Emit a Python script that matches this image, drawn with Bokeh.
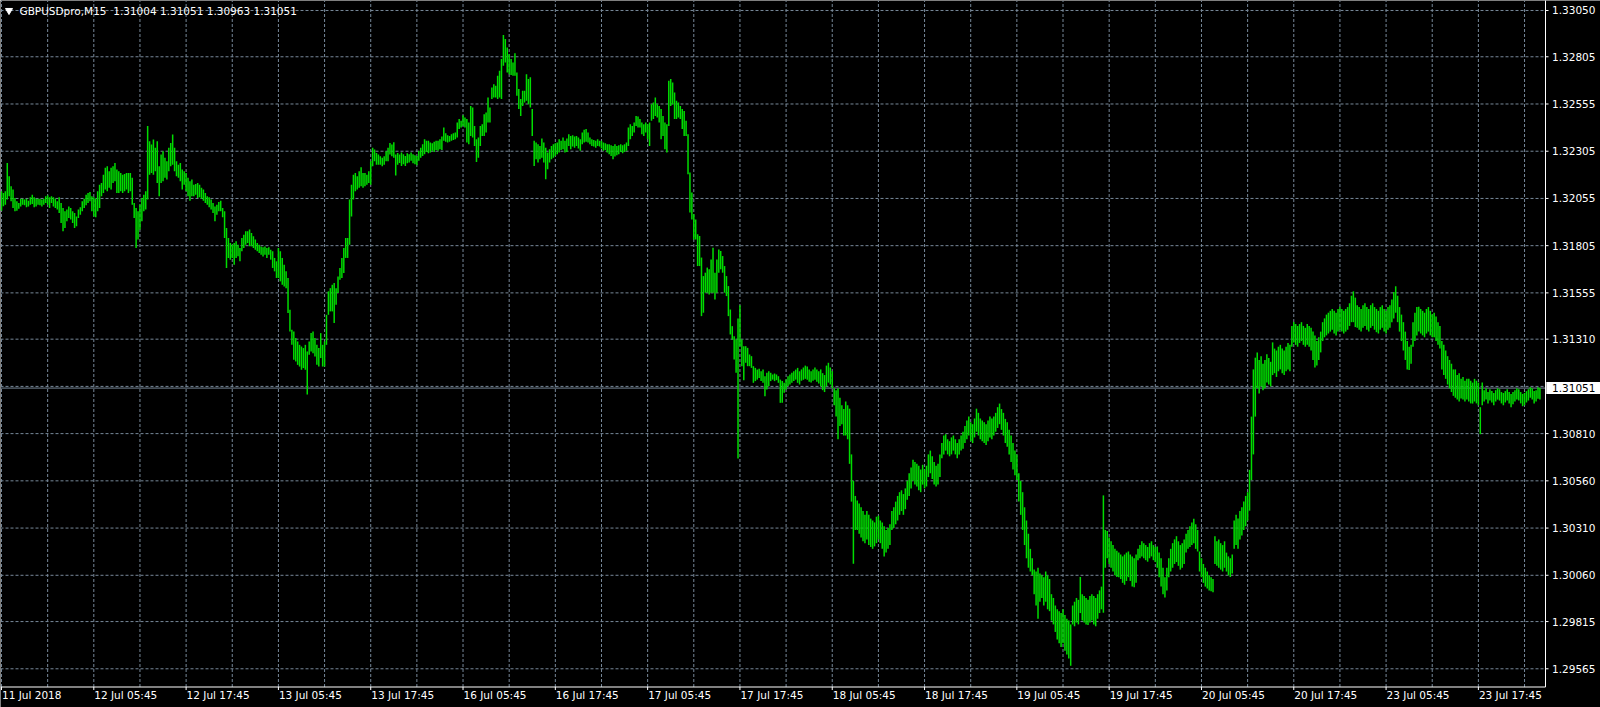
from bokeh.plotting import figure
from bokeh.models import ColumnDataSource
from bokeh.core.properties import value
from bokeh.embed import file_html
from bokeh.resources import INLINE

# ---- data -------------------------------------------------------------
BASE = 1.29          # bar highs / lows are stored in points (0.00001) above 1.29000
header = "GBPUSDpro,M15\u00a0 1.31004 1.31051 1.30963 1.31051"
bid_price = 1.31051

high_pts = [
3093,3084,3093,3243,3172,3120,3102,3058,3040,3031,
3054,3054,3049,3054,3043,3061,3075,3061,3054,3054,
3054,3049,3054,3066,3072,3061,3066,3061,3054,3040,
3061,3031,3005,2987,2996,3013,3005,2987,2978,2960,
2996,3008,3040,3054,3075,3084,3089,3066,3061,3054,
3093,3128,3137,3181,3217,3225,3199,3217,3225,3243,
3208,3199,3190,3181,3185,3190,3190,3190,3164,3031,
3005,2987,3022,3058,3075,3093,3438,3358,3340,3367,
3323,3358,3225,3287,3305,3270,3252,3323,3349,3393,
3323,3252,3234,3243,3208,3199,3190,3164,3146,3155,
3128,3132,3137,3128,3111,3102,3084,3066,3061,3049,
3031,3013,3022,3036,3043,3005,2987,2899,2846,2819,
2810,2819,2828,2810,2793,2846,2863,2881,2881,2890,
2872,2855,2837,2819,2810,2801,2796,2801,2793,2796,
2784,2775,2740,2722,2793,2775,2740,2704,2669,2634,
2466,2360,2351,2316,2298,2280,2271,2263,2280,2245,
2298,2342,2351,2316,2280,2263,2342,2280,2298,2439,
2563,2580,2598,2607,2580,2642,2687,2740,2793,2846,
2846,3049,3128,3181,3190,3172,3199,3220,3190,3190,
3181,3199,3252,3323,3314,3296,3287,3278,3270,3278,
3305,3323,3349,3340,3353,3287,3296,3287,
3298,3289,3280,3294,3289,3298,3289,3284,3280,3307,
3324,3342,3369,3360,3360,3351,3347,3355,3360,3360,
3369,3383,3430,3400,3390,3386,3395,3400,3404,3457,
3475,3466,3496,3483,3475,3457,3545,3536,3439,3369,
3377,3439,3448,3501,3510,3589,3536,3642,3660,3651,
3704,3731,3793,3920,3899,3854,3819,3793,3775,3824,
3722,3634,3581,3625,3625,3713,3687,3696,3528,3360,
3351,3342,3333,3372,3351,3324,3298,3316,3333,3342,
3347,3351,3369,3360,3377,3360,3372,3395,3386,3390,
3383,3386,3377,3369,3404,3418,3422,3404,3377,3369,
3365,3360,3369,3360,3360,3351,3347,3342,3342,3337,
3333,3342,3333,3337,3342,3337,3342,3351,3430,3448,
3439,3457,3492,3489,3475,3457,3448,3457,3448,3457,
3554,3563,3589,3554,3545,3528,3492,3457,3448,3678,
3687,3669,3616,3572,3563,3545,3528,3518,3466,3395,
3192,3086,2971,2944,2865,2856,2742,2644,2662,2689,
2680,2732,2794,2662,2732,2785,2777,2750,2697,2644,
2591,2467,2379,2326,2308,2420,2489,2308,2273,2273,
2264,2229,2220,2167,2158,2149,2153,2140,2149,2114,
2132,2140,2132,2123,2128,2123,2114,2096,2088,2079,
2096,2114,2123,2132,2140,2149,2158,2140,
2150,2160,2170,2165,2150,2140,2150,2160,2150,2140,
2150,2130,2120,2170,2185,2160,2140,
2050,2040,2050,2000,1960,1940,1980,1960,
1942,1700,1560,1480,
1456,1440,1420,1400,1380,1400,1380,1360,1350,1340,1370,
1375,1350,1340,1320,1300,1310,1330,
1400,1420,1450,1480,1500,1510,1490,1520,
1560,1600,1630,1672,1660,1650,1640,1620,
1645,1620,1640,1700,1720,1690,1660,1640,1650,1700,
1760,1800,1807,1780,1770,1790,1800,1780,1760,1780,1800,1820,
1850,1880,1900,1870,1860,1890,1942,1920,1890,1880,1870,1860,1880,1900,1890,
1900,1920,1950,1969,1940,1920,
1888,1870,1830,1800,1760,1720,1700,
1600,1560,1500,1420,1350,1280,1200,1150,
1090,1080,1100,1070,1060,1050,1080,1060,1040,
960,940,900,880,870,860,880,850,830,820,800,
900,920,940,930,1051,
960,950,940,930,950,960,950,940,
960,980,1000,1483,1300,
1294,1260,1240,1220,1200,1190,
1180,1170,1160,1170,1180,1186,1170,1160,1150,1170,
1200,1220,1240,1230,1220,1210,1230,1240,1220,1210,
1213,1180,1150,1100,1050,1100,
1150,1200,1230,1250,1267,1240,1220,1230,1250,
1280,1300,1320,1340,1359,1330,1300,
1186,1150,1120,1100,1080,1060,1050,1040,
1267,1240,1250,1230,1220,1240,
1180,1160,1150,1170,
1350,1380,1360,1400,1420,1450,1480,1500,
1618,1900,2150,2212,
2239,2200,2220,2180,2200,2230,2210,2190,
2293,2260,2250,2270,2280,2260,2250,2270,2290,2280,
2380,2401,2390,2380,2390,2400,2380,2370,2390,2380,
2370,2350,2330,2300,2320,2350,
2400,2420,2440,2450,2460,2470,2460,2450,2470,2482,2470,2460,2470,2480,
2500,2540,2563,2530,
2490,2480,2470,2490,2500,2480,2470,2490,2500,2480,2470,2460,2480,2490,2470,2460,2480,2490,
2520,2560,2590,2540,
2480,2440,2400,2350,2300,2270,2280,
2400,2450,2480,2482,2470,2460,2450,
2470,2480,2460,2440,2450,2430,2400,2380,
2300,2280,2250,2220,2200,2180,2150,
2150,2120,2130,2100,2110,2090,2100,
2100,2090,2080,2100,2090,2080,1950,2080,
2040,2050,2030,2045,2035,2025,2040,2050,2045,2030,
2025,2035,2045,2030,2020,2030,2040,2050,2045,2030,
2020,2025,2035,2045,2056,2050,2035,2040,2056,2051,
]

low_pts = [
2990,3014,3022,3049,3067,3040,3005,2987,2990,3001,
3013,3022,3019,3008,3013,3022,3026,3008,3013,3022,
3019,3013,3022,3031,3022,3005,3031,3013,3005,2996,
2978,2925,2881,2899,2934,2952,2943,2925,2899,2908,
2952,2969,2987,3005,3019,3031,3040,2987,2960,2955,
2987,3005,3066,3084,3102,3093,3111,3102,3137,3146,
3084,3084,3093,3084,3093,3102,3084,3093,3022,2952,
2793,2837,2890,2934,2987,2996,3049,3181,3190,3181,
3199,3137,3066,3137,3146,3164,3155,3199,3225,3234,
3199,3172,3164,3146,3102,3128,3093,3066,3043,3066,
3066,3075,3058,3061,3054,3043,3031,3022,3008,2996,
2978,2934,2969,2987,2987,2955,2846,2687,2740,2731,
2740,2704,2740,2749,2722,2775,2793,2810,2819,2802,
2802,2793,2784,2775,2766,2757,2748,2757,2740,2757,
2731,2687,2669,2634,2634,2616,2598,2589,2580,2448,
2351,2280,2201,2192,2174,2165,2148,2157,2148,2017,
2227,2245,2236,2218,2174,2165,2210,2165,2165,2280,
2439,2457,2457,2395,2492,2554,2625,2634,2660,2740,
2740,2810,2960,3049,3093,3102,3111,3120,3111,3120,
3128,3137,3128,3225,3252,3234,3234,3234,3225,3234,
3252,3252,3287,3278,3270,3176,3234,3243,
3227,3236,3227,3241,3245,3254,3241,3236,3231,3254,
3271,3280,3289,3301,3294,3298,3307,3301,3312,3307,
3316,3312,3360,3355,3351,3355,3360,3365,3369,3377,
3422,3430,3439,3430,3351,3342,3386,3377,3333,3248,
3271,3333,3386,3386,3404,3457,3457,3581,3589,3589,
3581,3589,3581,3757,3775,3722,3713,3708,3704,3704,
3598,3528,3492,3545,3563,3572,3554,3536,3386,3227,
3263,3245,3263,3271,3245,3156,3210,3245,3263,3271,
3280,3289,3298,3312,3316,3298,3301,3333,3316,3330,
3324,3333,3319,3307,3342,3351,3355,3351,3342,3333,
3330,3324,3333,3330,3319,3307,3312,3298,3289,3280,
3263,3277,3284,3289,3301,3294,3301,3307,3333,3369,
3386,3404,3439,3430,3430,3395,3386,3404,3369,3333,
3466,3475,3492,3483,3457,3369,3386,3316,3298,3439,
3545,3554,3475,3475,3483,3475,3422,3386,3386,3183,
2980,2944,2838,2838,2697,2697,2432,2450,2556,2556,
2547,2556,2556,2520,2556,2662,2680,2662,2556,2538,
2432,2335,2308,2202,2132,1678,2273,2167,2093,2185,
2167,2167,2158,2079,2088,2096,2105,2088,2079,2008,
2043,2061,2088,2096,2088,2093,2079,1973,1973,2026,
2043,2061,2070,2079,2088,2096,2079,2070,
2090,2095,2100,2095,2085,2080,2090,2095,2085,2075,
2060,2040,2030,2060,2080,2070,2050,
1960,1900,1780,1850,1860,1800,1800,1780,
1650,1450,1121,1300,
1300,1280,1260,1240,1230,1250,1220,1210,1200,1213,1230,
1250,1230,1200,1159,1180,1200,1220,
1300,1310,1330,1350,1380,1400,1380,1410,
1460,1480,1520,1560,1540,1530,1510,1500,
1540,1520,1530,1580,1600,1570,1540,1530,1540,1580,
1680,1700,1720,1700,1690,1700,1720,1700,1680,1700,1720,1730,
1760,1780,1800,1770,1760,1790,1820,1800,1780,1770,1760,1750,1770,1790,1780,
1800,1820,1840,1860,1830,1800,
1760,1740,1700,1660,1620,1590,1564,
1450,1380,1300,1220,1150,1100,1080,1060,
960,900,830,920,940,900,920,880,870,
820,800,760,720,700,680,700,660,640,620,581,
800,790,810,800,860,
820,810,800,797,810,820,800,790,
830,860,880,862,1100,
1150,1120,1100,1080,1060,1051,
1050,1040,1020,1010,1030,1050,1030,1000,997,1020,
1140,1150,1160,1150,1140,1132,1150,1160,1140,1130,
1100,1050,1000,960,943,980,
1050,1080,1100,1120,1130,1110,1090,1100,1120,
1180,1200,1210,1220,1230,1200,1186,
1080,1050,1020,1000,990,980,975,970,
1120,1110,1100,1090,1080,1100,
1080,1060,1051,1070,
1200,1220,1200,1250,1270,1300,1320,1350,
1402,1564,1700,1900,
2050,2023,2060,2040,2050,2080,2070,2060,
2120,2130,2110,2140,2150,2130,2120,2140,2150,2140,
2270,2293,2280,2270,2290,2300,2280,2270,2280,2270,
2250,2200,2160,2170,2200,2240,
2300,2320,2330,2340,2350,2360,2340,2330,2350,2360,2350,2340,2350,2360,
2380,2400,2400,2374,
2370,2360,2350,2370,2380,2360,2350,2370,2380,2360,2347,2340,2360,2370,2350,2340,2360,2370,
2400,2420,2450,2400,
2350,2300,2250,2200,2150,2147,2180,
2270,2300,2330,2350,2340,2330,2320,
2340,2350,2330,2320,2320,2300,2280,2260,
2150,2120,2100,2070,2050,2030,2010,
2000,1990,1980,1996,1990,1980,1990,
1980,1970,1969,1980,1970,1960,1807,1960,
1980,1990,1970,1985,1975,1960,1980,1990,1985,1970,
1960,1975,1985,1970,1950,1965,1980,1990,1985,1970,
1955,1960,1975,1985,2000,1990,1970,1980,1995,1990,
]

time_labels = ["11 Jul 2018", "12 Jul 05:45", "12 Jul 17:45", "13 Jul 05:45", "13 Jul 17:45",
               "16 Jul 05:45", "16 Jul 17:45", "17 Jul 05:45", "17 Jul 17:45", "18 Jul 05:45",
               "18 Jul 17:45", "19 Jul 05:45", "19 Jul 17:45", "20 Jul 05:45", "20 Jul 17:45",
               "23 Jul 05:45", "23 Jul 17:45"]
time_label_bars = [0, 48, 96, 144, 192, 240, 288, 336, 384, 432, 480, 528, 576, 624, 672, 720, 768]
price_ticks = [1.33050, 1.32805, 1.32555, 1.32305, 1.32055, 1.31805, 1.31555, 1.31310,
               1.30810, 1.30560, 1.30310, 1.30060, 1.29815, 1.29565]
price_labels = ["1.33050", "1.32805", "1.32555", "1.32305", "1.32055", "1.31805", "1.31555", "1.31310",
                "1.30810", "1.30560", "1.30310", "1.30060", "1.29815", "1.29565"]
hidden_grid_price = 1.31060     # grid row whose label is covered by the bid box
grid_bars = list(range(0, 801, 24))

# ---- layout (screen pixels inside the figure) ---------------------------
W, H = 1600, 707
R_PX = 1545            # x pixel of the price-scale line
B_PX = 686.5           # y pixel of the time-scale line
X_LEFT, X_RIGHT = -0.52, 802.9           # bar span of the chart area
P_TOP, P_AXIS = 1.331029, 1.294686       # price at top edge / at time-scale line
bx = (X_RIGHT - X_LEFT) / R_PX           # bars per pixel
py = (P_TOP - P_AXIS) / B_PX             # price per pixel

FONT = "DejaVu Sans"
FS = "10.5px"
GRID = "#778899"
BAR = "#00DC00"

n = min(len(high_pts), len(low_pts))
src = ColumnDataSource(dict(
    x=list(range(n)),
    hi=[BASE + v / 1e5 for v in high_pts[:n]],
    lo=[BASE + v / 1e5 for v in low_pts[:n]],
))

p = figure(width=W, height=H,
           x_range=(X_LEFT, X_LEFT + W * bx), y_range=(P_TOP - H * py, P_TOP),
           x_axis_location=None, y_axis_location=None,
           output_backend="svg", toolbar_location=None,
           background_fill_color="black", border_fill_color="black",
           min_border=0)
p.outline_line_color = None
p.xgrid.visible = False
p.ygrid.visible = False

# grid (dashed) inside the chart area only
p.segment(x0=grid_bars, y0=[P_AXIS] * len(grid_bars), x1=grid_bars, y1=[P_TOP] * len(grid_bars),
          line_color=GRID, line_width=1, line_dash="3 2")
grid_prices = price_ticks + [hidden_grid_price]
p.segment(x0=[X_LEFT] * len(grid_prices), y0=grid_prices, x1=[X_RIGHT] * len(grid_prices), y1=grid_prices,
          line_color=GRID, line_width=1, line_dash="3 2")

# bid line
p.segment(x0=[X_LEFT], y0=[bid_price], x1=[X_RIGHT], y1=[bid_price], line_color=GRID, line_width=1)

# OHLC bars (high-low)
p.segment(x0="x", y0="lo", x1="x", y1="hi", source=src, line_color=BAR, line_width=1.5)

# scale lines and tick marks
p.segment(x0=[X_LEFT, X_RIGHT], y0=[P_AXIS, P_AXIS], x1=[X_RIGHT, X_RIGHT], y1=[P_AXIS, P_TOP + 10 * py],
          line_color="white", line_width=1)
p.segment(x0=[X_RIGHT] * len(price_ticks), y0=price_ticks,
          x1=[X_RIGHT + 3 * bx] * len(price_ticks), y1=price_ticks, line_color="white", line_width=1)
p.segment(x0=time_label_bars, y0=[P_AXIS] * len(time_label_bars),
          x1=time_label_bars, y1=[P_AXIS - 3 * py] * len(time_label_bars), line_color="white", line_width=1)

# price labels
p.text(x=[X_RIGHT + 6.5 * bx] * len(price_ticks), y=price_ticks, text=price_labels,
       text_font=value(FONT), text_font_size=FS, text_color="white",
       text_align="left", text_baseline="middle")

# bid price box
p.quad(left=[X_RIGHT + 0.8 * bx], right=[X_LEFT + W * bx], bottom=[bid_price - 6 * py], top=[bid_price + 6 * py],
       fill_color="white", line_color=None)
p.text(x=[X_RIGHT + 6.5 * bx], y=[bid_price], text=[f"{bid_price:.5f}"],
       text_font=value(FONT), text_font_size=FS, text_color="black",
       text_align="left", text_baseline="middle")

# time labels
p.text(x=[b + 0.5 * bx for b in time_label_bars], y=[P_AXIS - 1.5 * py] * len(time_label_bars), text=time_labels,
       text_font=value(FONT), text_font_size=FS, text_color="white",
       text_align="left", text_baseline="top")

# header
p.scatter(x=[X_LEFT + 8.5 * bx], y=[P_TOP - 10 * py], marker="inverted_triangle", size=7,
          fill_color="white", line_color="white")
p.text(x=[X_LEFT + 19 * bx], y=[P_TOP - 10.5 * py], text=[header],
       text_font=value(FONT), text_font_size=FS, text_color="white",
       text_align="left", text_baseline="middle")

open("out.html", "w").write(file_html(p, INLINE))
